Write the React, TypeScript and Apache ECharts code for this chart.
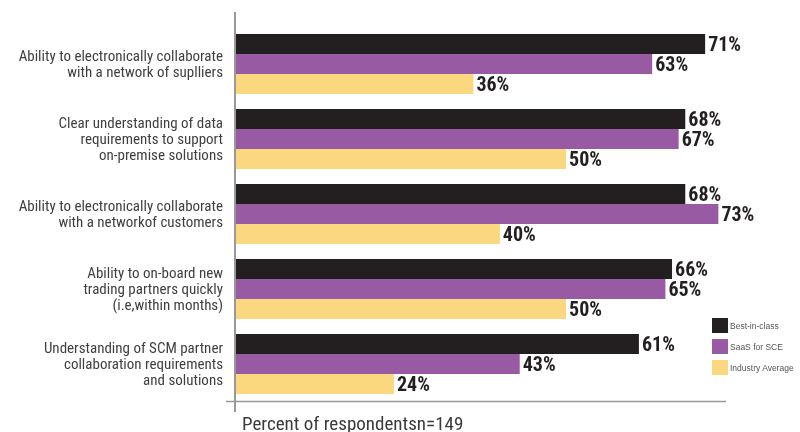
import React, { useEffect, useRef } from "react";
import * as echarts from "echarts";

const categories = [
  "Ability to electronically collaborate\nwith a network of suplliers",
  "Clear understanding of data\nrequirements to support\non-premise solutions",
  "Ability to electronically collaborate\nwith a networkof customers",
  "Ability to on-board new\ntrading partners quickly\n(i.e,within months)",
  "Understanding of SCM partner\ncollaboration requirements\nand solutions",
];
const seriesNames = ["Best-in-class", "SaaS for SCE", "Industry Average"];
const bestInClass = [71, 68, 68, 66, 61];
const saasForSCE = [63, 67, 73, 65, 43];
const industryAverage = [36, 50, 40, 50, 24];
const axisName = "Percent of respondentsn=149";

const colors = ["#231f20", "#985aa2", "#fbd87f"];
const narrow = "'Liberation Sans Narrow', 'Roboto Condensed', Roboto, sans-serif";

export default function App() {
  const ref = useRef<HTMLDivElement>(null);
  useEffect(() => {
    if (!ref.current) return;
    const chart = echarts.init(ref.current, undefined, { renderer: "svg" });
    const values = [bestInClass, saasForSCE, industryAverage];
    chart.setOption({
      animation: false,
      grid: { left: 235, top: 26.5, width: 490, height: 375, containLabel: false },
      legend: {
        orient: "vertical",
        left: 712,
        top: 318,
        padding: 0,
        itemWidth: 16,
        itemHeight: 15,
        itemGap: 6,
        icon: "rect",
        textStyle: {
          fontSize: 8.5,
          color: "#555",
          fontFamily: "'Liberation Sans', Arial, sans-serif",
          padding: [0, 0, 0, -3],
        },
        data: seriesNames,
      },
      xAxis: {
        type: "value",
        min: 0,
        max: 74,
        axisLine: { show: false },
        axisTick: { show: false },
        axisLabel: { show: false },
        splitLine: { show: false },
      },
      yAxis: {
        type: "category",
        inverse: true,
        data: categories,
        axisLine: { show: false },
        axisTick: { show: false },
        axisLabel: {
          margin: 12,
          fontSize: 15,
          lineHeight: 16,
          color: "#3f3f3f",
          fontFamily: narrow,
          align: "right",
        },
      },
      graphic: [
        {
          type: "line",
          shape: { x1: 235, y1: 12, x2: 235, y2: 412 },
          style: { stroke: "#999", lineWidth: 2 },
          z: 10,
        },
        {
          type: "line",
          shape: { x1: 226, y1: 401.5, x2: 726, y2: 401.5 },
          style: { stroke: "#999", lineWidth: 1.5 },
          z: 10,
        },
        {
          type: "text",
          x: 242,
          y: 423.5,
          style: {
            text: axisName,
            fontSize: 19,
            fill: "#3a3a3a",
            fontFamily: narrow,
            verticalAlign: "middle",
          },
        },
      ],
      series: seriesNames.map((name, i) => ({
        name,
        type: "bar",
        data: values[i],
        barGap: "0%",
        barCategoryGap: "20%",
        itemStyle: { color: colors[i] },
        label: {
          show: true,
          position: "right",
          distance: 3,
          formatter: "{c}%",
          fontSize: 20,
          fontWeight: "bold",
          color: "#231f20",
          fontFamily: narrow,
        },
      })),
    });
    return () => chart.dispose();
  }, []);
  return (
    <div
      ref={ref}
      style={{ position: "fixed", left: 0, top: 0, width: 800, height: 432 }}
    />
  );
}
